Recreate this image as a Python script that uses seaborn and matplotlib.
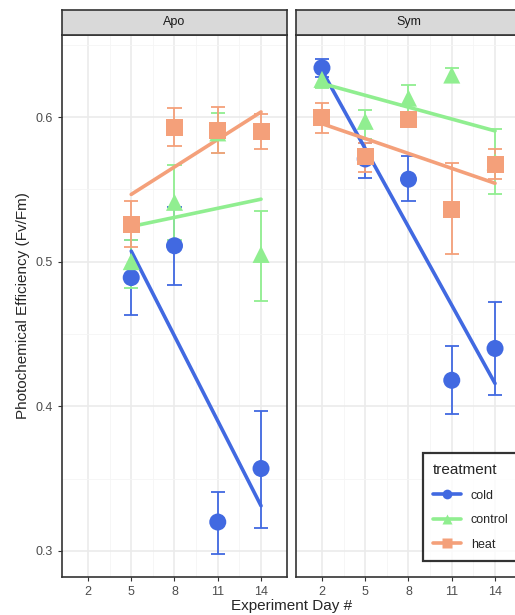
import numpy as np
import pandas as pd
import seaborn as sns
import matplotlib.pyplot as plt
from matplotlib.lines import Line2D

# means and error bar limits
apo_days = [5, 8, 11, 14]
apo_cold = [0.489, 0.511, 0.320, 0.357]
apo_cold_lo = [0.463, 0.484, 0.298, 0.316]
apo_cold_hi = [0.515, 0.538, 0.341, 0.397]
apo_control = [0.500, 0.541, 0.589, 0.505]
apo_control_lo = [0.482, 0.515, 0.575, 0.473]
apo_control_hi = [0.515, 0.567, 0.603, 0.535]
apo_heat = [0.526, 0.593, 0.591, 0.590]
apo_heat_lo = [0.510, 0.580, 0.575, 0.578]
apo_heat_hi = [0.542, 0.606, 0.607, 0.602]

sym_days = [2, 5, 8, 11, 14]
sym_cold = [0.634, 0.571, 0.557, 0.418, 0.440]
sym_cold_lo = [0.628, 0.558, 0.542, 0.395, 0.408]
sym_cold_hi = [0.640, 0.582, 0.573, 0.442, 0.472]
sym_control = [0.626, 0.597, 0.613, 0.629, 0.569]
sym_control_lo = [0.620, 0.585, 0.603, 0.624, 0.547]
sym_control_hi = [0.632, 0.605, 0.622, 0.634, 0.592]
sym_heat = [0.600, 0.573, 0.598, 0.536, 0.567]
sym_heat_lo = [0.589, 0.562, 0.593, 0.505, 0.557]
sym_heat_hi = [0.610, 0.582, 0.602, 0.568, 0.578]

colors = {"cold": "#4169E1", "control": "#90EE90", "heat": "#F4A07A"}
markers = {"cold": "o", "control": "^", "heat": "s"}

panels = {
    "Apo": (apo_days, {"cold": (apo_cold, apo_cold_lo, apo_cold_hi),
                       "control": (apo_control, apo_control_lo, apo_control_hi),
                       "heat": (apo_heat, apo_heat_lo, apo_heat_hi)}),
    "Sym": (sym_days, {"cold": (sym_cold, sym_cold_lo, sym_cold_hi),
                       "control": (sym_control, sym_control_lo, sym_control_hi),
                       "heat": (sym_heat, sym_heat_lo, sym_heat_hi)}),
}

sns.set_style("white")
plt.rcParams['font.family'] = ['Liberation Sans', 'DejaVu Sans']
fig = plt.figure(figsize=(5.15, 6.15), dpi=100)
W, H = 515, 615
lefts = [62, 296]
for (name, (days, series)), left in zip(panels.items(), lefts):
    ax = fig.add_axes([left / W, (H - 577) / H, 225 / W, (577 - 35) / H])
    for tr, (m, lo, hi) in series.items():
        df = pd.DataFrame({"day": days, "val": m})
        c = colors[tr]
        ax.vlines(days, lo, hi, color=c, lw=1.3, zorder=2)
        ax.hlines(lo, np.array(days) - 0.5, np.array(days) + 0.5, color=c, lw=1.3, zorder=2)
        ax.hlines(hi, np.array(days) - 0.5, np.array(days) + 0.5, color=c, lw=1.3, zorder=2)
        sns.regplot(data=df, x="day", y="val", ax=ax, ci=None, scatter=False,
                    color=c, line_kws={"lw": 2.6, "zorder": 3})
        sns.scatterplot(data=df, x="day", y="val", ax=ax, color=c, marker=markers[tr],
                        s=150, edgecolor="none", zorder=4)
    ax.set_xlim(0.2, 15.8)
    ax.set_ylim(0.282, 0.6567)
    ax.set_xticks([2, 5, 8, 11, 14])
    ax.set_yticks([0.3, 0.4, 0.5, 0.6])
    ax.set_yticks([0.35, 0.45, 0.55, 0.65], minor=True)
    ax.set_xticks([3.5, 6.5, 9.5, 12.5], minor=True)
    ax.grid(True, which="major", color="#EBEBEB", lw=1.2)
    ax.grid(True, which="minor", color="#F5F5F5", lw=0.6)
    ax.set_axisbelow(True)
    for s in ax.spines.values():
        s.set_color("#333333")
        s.set_linewidth(1.2)
    ax.tick_params(axis="both", which="major", length=3, color="#333333",
                   labelcolor="#4D4D4D", labelsize=9, left=True, bottom=True)
    ax.tick_params(which="minor", length=0)
    ax.set_xlabel("")
    ax.set_ylabel("")
    if left != lefts[0]:
        ax.tick_params(axis="y", left=False, labelleft=False)
    # strip
    strip = fig.add_axes([left / W, (H - 35) / H, 225 / W, 25 / H])
    strip.set_facecolor("#D9D9D9")
    strip.set_xticks([])
    strip.set_yticks([])
    for s in strip.spines.values():
        s.set_color("#333333")
        s.set_linewidth(1.2)
    strip.text(0.5, 0.5, name, ha="center", va="center", fontsize=9, color="#1A1A1A",
               transform=strip.transAxes)
    if name == "Sym":
        handles = [Line2D([], [], color=colors[t], marker=markers[t], lw=2.6, markersize=7,
                          markeredgecolor="none") for t in colors]
        leg = ax.legend(handles, list(colors), title="treatment", loc="lower left",
                        bbox_to_anchor=((417 - 296) / 225, (577 - 567) / 542),
                        frameon=True, fancybox=False, fontsize=9, title_fontsize=11,
                        borderpad=0.8, labelspacing=1.0, handlelength=2.2)
        leg.get_frame().set_edgecolor("black")
        leg.get_frame().set_linewidth(1.6)
        leg._legend_box.align = "left"

fig.text(0.5 * (62 + 521) / W, 2 / H, "Experiment Day #", ha="center", va="bottom", fontsize=11)
fig.text(16 / W, (H - 306) / H, "Photochemical Efficiency (Fv/Fm)", rotation=90,
         ha="left", va="center", fontsize=11)
fig.savefig("out.png", dpi=100)
